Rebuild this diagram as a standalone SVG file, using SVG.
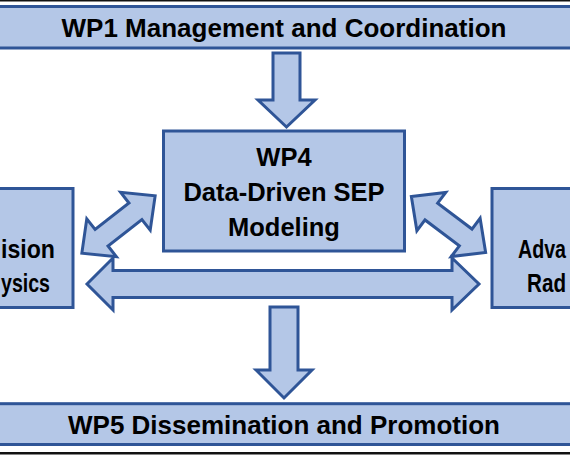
<svg xmlns="http://www.w3.org/2000/svg" width="570" height="456" viewBox="0 0 570 456">
<style>
.box{fill:#B4C7E7;stroke:#2F5597;stroke-width:3}
.arr{fill:#B4C7E7;stroke:#2F5597;stroke-width:3;stroke-linejoin:miter}
.t{font-family:"Liberation Sans",Arial,sans-serif;font-weight:bold;font-size:26px;fill:#000}
.m{text-anchor:middle}
</style>
<rect x="0" y="0" width="570" height="456" fill="#fff"/>
<rect x="0" y="0" width="570" height="1.5" fill="#111"/>
<rect x="0" y="452" width="570" height="2.5" fill="#111"/>
<g id="wp1">
<rect class="box" x="-10" y="6.5" width="590" height="41.5"/>
<text class="t m" x="284" y="36.5">WP1 Management and Coordination</text>
</g>
<g id="wp4">
<rect class="box" x="163.5" y="131" width="241" height="120"/>
<text class="t m" x="284" y="166" style="font-size:25.5px">WP4</text>
<text class="t m" x="284" y="201" style="font-size:25.5px">Data-Driven SEP</text>
<text class="t m" x="284" y="236" style="font-size:25.5px">Modeling</text>
</g>
<g id="wp-left">
<rect class="box" x="-10" y="188.5" width="83" height="119"/>
<text class="t" x="1" y="258" textLength="54" lengthAdjust="spacingAndGlyphs">ision</text>
<text class="t" x="1" y="292" textLength="49" lengthAdjust="spacingAndGlyphs">ysics</text>
</g>
<g id="wp-right">
<rect class="box" x="492" y="188.5" width="90" height="119"/>
<text class="t" x="518" y="258" textLength="48" lengthAdjust="spacingAndGlyphs">Adva</text>
<text class="t" x="527" y="292" textLength="39" lengthAdjust="spacingAndGlyphs">Rad</text>
</g>
<g id="wp5">
<rect class="box" x="-10" y="403.7" width="590" height="40.8"/>
<text class="t m" x="284" y="433.5">WP5 Dissemination and Promotion</text>
</g>
<g id="connectors">
<polygon class="arr" points="273,53 300,53 300,100 315,100 286.5,127 258,100 273,100"/>
<polygon class="arr" points="-46.5,0 -21.5,-24 -21.5,-10.5 21.5,-10.5 21.5,-24 46.5,0 21.5,24 21.5,10.5 -21.5,10.5 -21.5,24" transform="translate(118.5,224.5) rotate(-38)"/>
<polygon class="arr" points="-46.5,0 -21.5,-24 -21.5,-10.5 21.5,-10.5 21.5,-24 46.5,0 21.5,24 21.5,10.5 -21.5,10.5 -21.5,24" transform="translate(448.5,224.5) rotate(37)"/>
<polygon class="arr" points="87,284 113,258 113,270.5 452,270.5 452,258 479,284 452,310 452,297.5 113,297.5 113,310"/>
<polygon class="arr" points="270,307 298,307 298,370 312,370 284,398 256,370 270,370"/>
</g>
</svg>
